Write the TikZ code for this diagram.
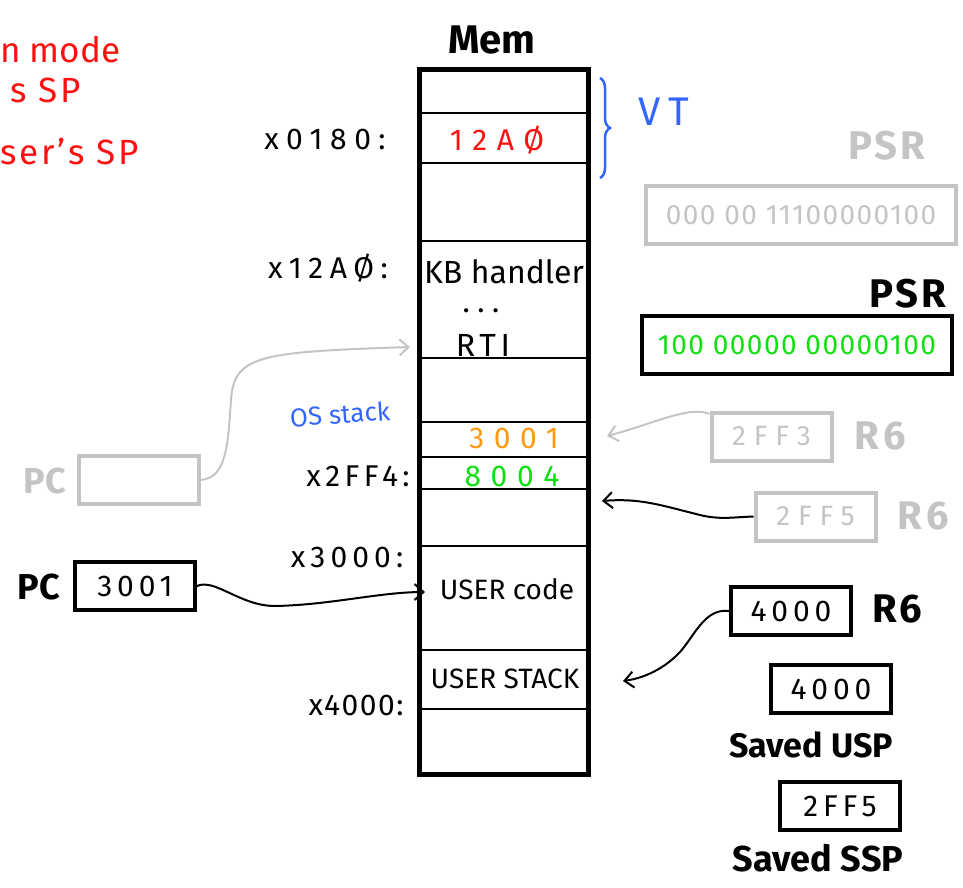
\documentclass[tikz,border=0pt]{standalone}
\usepackage{fontspec}
\setmainfont{Fira Sans}
\usetikzlibrary{arrows.meta,decorations.pathreplacing}
\definecolor{lightgrey}{HTML}{C4C4C4}
\definecolor{hred}{HTML}{FF1010}
\definecolor{hblue}{HTML}{3366FF}
\definecolor{hgreen}{HTML}{10E010}
\definecolor{horange}{HTML}{FF9A10}
\newcommand\lsp[1]{\addfontfeatures{LetterSpace=#1}}
\newcommand\fsz[1]{\fontsize{#1}{#1}\selectfont}
\begin{document}
\begin{tikzpicture}[x=1pt,y=-1pt,
  txt/.style={font=\fsz{30}, inner sep=0},
  boldtxt/.style={font=\fsz{36}\bfseries, inner sep=0},
  regbox/.style={draw, line width=4pt, minimum width=120pt, minimum height=48pt, inner sep=0, font=\fsz{30}\lsp{16}},
  greybox/.style={regbox, draw=lightgrey, text=lightgrey, font=\fsz{28}\lsp{28}},
  row/.style={line width=2.5pt},
  conn/.style={line width=2pt, -{Straight Barb[length=9pt,width=16pt,line width=2pt]}},
  ]
\useasboundingbox (0,0) rectangle (963,888);

% red notes (cut off at the left edge)
\node[txt, font=\fsz{35}, text=hred, anchor=west] (note1) at (0,50) {n mode};
\node[txt, font=\fsz{35}\lsp{8}, text=hred, anchor=west] (note2) at (10,90) {s SP};
\node[txt, font=\fsz{35}\lsp{8}, text=hred, anchor=west] (note3) at (0,152) {ser’s SP};

% memory
\node[boldtxt, font=\fsz{40}\bfseries] (mem) at (492,40) {Mem};
\draw[line width=5pt] (419,70) rectangle (588,774);
\foreach \yy in {113,163,241,358,422,457,489,546,650,709}
  \draw[row] (421,\yy) -- (586,\yy);

\node[txt, font=\fsz{30}\lsp{32}, text=hred] (vtval) at (497,140) {12AØ};
\draw[hblue, line width=2.5pt, decorate, decoration={brace, amplitude=10pt}] (600,78) -- (600,178);
\node[txt, font=\fsz{40}\lsp{18}, text=hblue] (vt) at (664,112) {VT};

\node[txt, font=\fsz{30}\lsp{25}] (a0180) at (325,139) {x0180:};
\node[txt, font=\fsz{30}\lsp{22}] (a12a0) at (328,268) {x12AØ:};
\node[txt, font=\fsz{32}] (kb) at (504,272) {KB handler};
\node[txt, font=\fsz{30}\lsp{25}] (dots) at (481,311) {...};
\node[txt, font=\fsz{32}\lsp{15}] (rti) at (483,345) {RTI};
\node[txt, font=\fsz{26}, text=hblue, rotate=4] (os) at (340,414) {OS stack};
\node[txt, text=horange, font=\fsz{30}\lsp{32}] (v3001) at (514,438) {3001};
\node[txt, font=\fsz{30}\lsp{15}] (a2ff4) at (358,476) {x2FF4:};
\node[txt, text=hgreen, font=\fsz{30}\lsp{32}] (v8004) at (512,476) {8004};
\node[txt, font=\fsz{30}\lsp{17}] (a3000) at (347,557) {x3000:};
\node[txt, font=\fsz{28}] (ucode) at (507,589) {USER code};
\node[txt, font=\fsz{28}] (ustack) at (505,679) {USER STACK};
\node[txt, font=\fsz{30}\lsp{5}] (a4000) at (356,705) {x4000:};

% PC registers
\node[greybox] (pcg) at (138.5,480) {};
\node[boldtxt, text=lightgrey] (pcgl) at (45,481) {PC};
\node[regbox] (pc) at (135,586) {3001};
\node[boldtxt] (pcl) at (39,587) {PC};

% PSR
\node[boldtxt, font=\fsz{40}\bfseries\lsp{8}, text=lightgrey] (psrgl) at (887,146) {PSR};
\node[greybox, minimum width=310pt, minimum height=58pt, font=\fsz{28}\lsp{5}] (psrg) at (801,215) {000 00 11100000100};
\node[boldtxt, font=\fsz{40}\bfseries\lsp{8}] (psrl) at (908,294) {PSR};
\node[regbox, minimum width=310pt, minimum height=58pt, text=hgreen, font=\fsz{28}\lsp{5}] (psr) at (797,345) {100 00000 00000100};

% R6 values
\node[greybox] (r6a) at (771.5,436.5) {2FF3};
\node[boldtxt, font=\fsz{40}\bfseries\lsp{10}, text=lightgrey] (r6al) at (880,436) {R6};
\node[greybox] (r6b) at (815.5,516.5) {2FF5};
\node[boldtxt, font=\fsz{40}\bfseries\lsp{10}, text=lightgrey] (r6bl) at (923,516) {R6};
\node[regbox] (r6c) at (791,611) {4000};
\node[boldtxt, font=\fsz{40}\bfseries\lsp{5}] (r6cl) at (897,609) {R6};
\node[regbox] (usp) at (831,689) {4000};
\node[boldtxt, font=\fsz{34}\bfseries] (uspl) at (811,745) {Saved USP};
\node[regbox] (ssp) at (840,806) {2FF5};
\node[boldtxt, font=\fsz{36}\bfseries] (sspl) at (818,858) {Saved SSP};

% arrow targets
\coordinate (rtiin) at (410,347);
\coordinate (ucin) at (425,592);
\coordinate (slotA) at (607,436);
\coordinate (slotB) at (602,501);
\coordinate (usin) at (623,681);

% connectors
\draw[conn, lightgrey] (pcg.east) .. controls (228,478) and (228,440) .. (231,400) .. controls (234,355) and (260,352) .. (rtiin);
\draw[conn] (pc.east) .. controls (215,578) and (240,606) .. (275,606) .. controls (330,605) and (380,592) .. (ucin);
\draw[conn, lightgrey] (r6a.160) .. controls (690,405) and (650,425) .. (slotA);
\draw[conn] (r6b.west) .. controls (735,517) and (720,520) .. (700,515) .. controls (660,505) and (640,498) .. (slotB);
\draw[conn] (r6c.west) .. controls (705,608) and (695,635) .. (680,652) .. controls (665,668) and (645,678) .. (usin);
\end{tikzpicture}
\end{document}
